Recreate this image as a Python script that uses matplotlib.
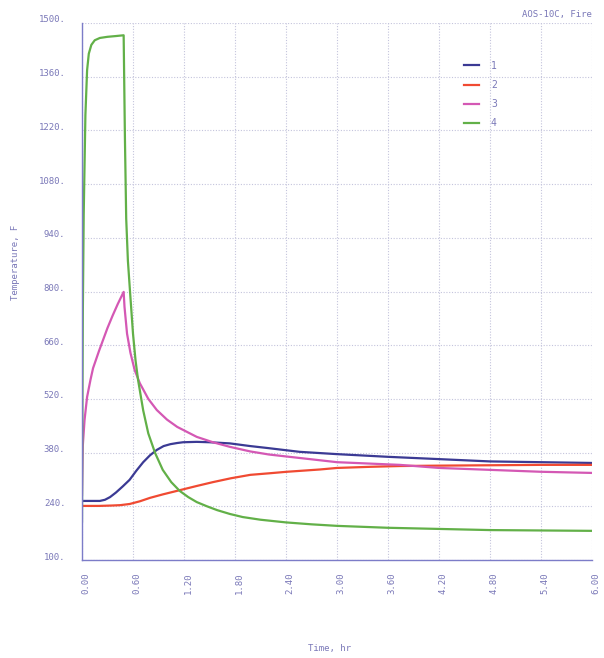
import matplotlib.pyplot as plt
from matplotlib.ticker import FixedLocator
import matplotlib.transforms as mtransforms

# curve 1
t1 = [0.0, 0.1, 0.21, 0.27, 0.33, 0.4, 0.48, 0.56, 0.64, 0.72, 0.8, 0.88, 0.96, 1.04, 1.12, 1.19, 1.35, 1.5,
      1.74, 1.98, 2.18, 2.56, 3.0, 3.6, 4.2, 4.8, 5.4, 6.0]
T1 = [254, 254, 254, 257, 264, 276, 292, 309, 333, 355, 373, 387, 397, 402, 405, 407, 408, 407,
      404, 397, 392, 382, 376, 369, 363, 357, 355, 353]

# curve 2
t2 = [0.0, 0.2, 0.35, 0.45, 0.56, 0.68, 0.8, 0.95, 1.15, 1.35, 1.54, 1.75, 1.98, 2.2, 2.41, 2.8, 3.0, 3.4,
      3.74, 4.2, 4.8, 5.4, 6.0]
T2 = [241, 241, 242, 243, 246, 253, 262, 271, 282, 293, 303, 313, 322, 326, 330, 336, 340, 343,
      345, 346, 347, 348, 348]

# curve 3
t3 = [0.0, 0.01, 0.03, 0.06, 0.1, 0.13, 0.2, 0.25, 0.3, 0.36, 0.42, 0.49, 0.5, 0.53, 0.57, 0.62,
      0.68, 0.78, 0.88, 1.0, 1.12, 1.35, 1.54, 1.74, 1.98, 2.2, 2.56, 3.0, 3.74, 4.2, 4.8, 5.4, 6.0]
T3 = [270, 400, 465, 525, 570, 600, 645, 675, 705, 737, 767, 799, 760, 690, 640, 595,
      561, 520, 491, 466, 447, 421, 407, 395, 383, 375, 366, 355, 348, 340, 335, 330, 327]

# curve 4
t4 = [0.0, 0.005, 0.01, 0.02, 0.04, 0.06, 0.08, 0.11, 0.15, 0.21, 0.3, 0.4, 0.49, 0.505, 0.52, 0.54,
      0.565, 0.6, 0.63, 0.66, 0.72, 0.78, 0.86, 0.95, 1.05, 1.15, 1.25, 1.35, 1.47, 1.59, 1.74, 1.89,
      2.1, 2.4, 2.7, 3.0, 3.6, 4.2, 4.8, 5.4, 6.0]
T4 = [200, 500, 750, 1000, 1260, 1377, 1420, 1443, 1455, 1461, 1464, 1466, 1468, 1200, 990, 880,
      800, 690, 620, 569, 490, 430, 379, 335, 303, 280, 264, 251, 240, 230, 220, 212,
      205, 198, 193, 189, 184, 181, 178, 177, 176]

labels = ['1', '2', '3', '4']
colors = ['#3b3a94', '#f04a32', '#d458b4', '#62b048']

xticks = [0.0, 0.6, 1.2, 1.8, 2.4, 3.0, 3.6, 4.2, 4.8, 5.4, 6.0]
yticks = [100, 240, 380, 520, 660, 800, 940, 1080, 1220, 1360, 1500]

txt_color = '#7a78b8'
plt.rcParams['font.family'] = ['DejaVu Sans Mono']

fig = plt.figure(figsize=(6.04, 6.58), dpi=100)
ax = fig.add_axes([82 / 604, 1 - 560 / 658, 510 / 604, 537 / 658])

for t, T, lab, c in zip([t1, t2, t3, t4], [T1, T2, T3, T4], labels, colors):
    ax.plot(t, T, color=c, lw=1.6, label=lab)

ax.set_xlim(0, 6)
ax.set_ylim(100, 1500)
ax.xaxis.set_major_locator(FixedLocator(xticks))
ax.yaxis.set_major_locator(FixedLocator(yticks))
ax.set_xticklabels(['%.2f' % v for v in xticks], rotation=90, fontsize=6.5, color=txt_color)
ax.set_yticklabels(['%d.' % v for v in yticks], fontsize=6.5, color=txt_color)
ax.tick_params(length=0)
ax.tick_params(axis='x', pad=9)
ax.tick_params(axis='y', pad=12)
# y labels sit a little above their grid lines
for lbl in ax.get_yticklabels():
    lbl.set_transform(lbl.get_transform() + mtransforms.ScaledTranslation(0, 4 / 100, fig.dpi_scale_trans))
for lbl in ax.get_xticklabels():
    lbl.set_transform(lbl.get_transform() + mtransforms.ScaledTranslation(4 / 100, 0, fig.dpi_scale_trans))

ax.grid(True, color='#c4c4dc', linestyle=(0, (1, 1.5)), lw=0.8)
for s in ['top', 'right']:
    ax.spines[s].set_visible(False)
for s in ['left', 'bottom']:
    ax.spines[s].set_color('#7c7cc8')
    ax.spines[s].set_linewidth(1.0)

ax.legend(loc='upper left', bbox_to_anchor=(455 / 604, 1 - 52 / 658), bbox_transform=fig.transFigure,
          frameon=False, handlelength=1.6, handletextpad=1.2, labelspacing=0.95, fontsize=7,
          labelcolor=txt_color)

fig.text(592 / 604, 1 - 15 / 658, 'AOS-10C, Fire', ha='right', va='center', fontsize=6.5, color=txt_color)
fig.text(16 / 604, 1 - 262 / 658, 'Temperature, F', rotation=90, ha='center', va='center',
         fontsize=6.5, color=txt_color)
fig.text(330 / 604, 1 - 648 / 658, 'Time, hr', ha='center', va='center', fontsize=6.5, color=txt_color)

fig.savefig('out.png', dpi=100)
